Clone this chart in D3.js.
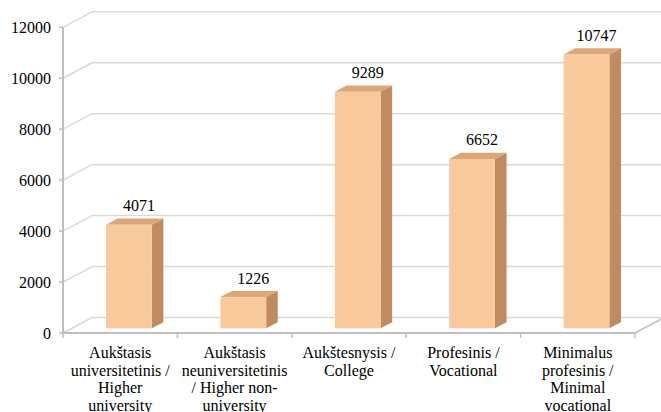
<!DOCTYPE html>
<html>
<head>
<meta charset="utf-8">
<script src="https://cdn.jsdelivr.net/npm/d3@7"></script>
</head>
<body style="margin:0;background:#fff">
<svg id="chart" width="661" height="412" style="display:block"></svg>
<script>
// ---- data ----
const categories = [
  "Aukštasis|universitetinis /|Higher|university",
  "Aukštasis|neuniversitetinis|/ Higher non-|university",
  "Aukštesnysis /|College",
  "Profesinis /|Vocational",
  "Minimalus|profesinis /|Minimal|vocational"
];
const values = [4071, 1226, 9289, 6652, 10747];
const yTicks = [0, 2000, 4000, 6000, 8000, 10000, 12000];

// ---- layout ----
const W = 661;
const left = 63, right = 635, floorY = 333, topY = 27.3;
const depth = { dx: 29, dy: -15.5 };
const barFront = 0.3, barBack = 0.7;
const FONT = "Liberation Serif";

const colors = {
  front: "#F8C99B", side: "#C08C5F", top: "#DCA676",
  grid: "#D9D9D9", axis: "#BFBFBF"
};

const svg = d3.select("#chart");

const x = d3.scaleBand().domain(d3.range(categories.length)).range([left, right]);
const y = d3.scaleLinear().domain([0, 12000]).range([floorY, topY]);
const bw = x.bandwidth() / 2.5;

function addText(xp, yp, str, anchor) {
  return svg.append("text")
    .attr("x", xp).attr("y", yp)
    .attr("text-anchor", anchor)
    .attr("font-family", FONT).attr("font-size", 16).attr("fill", "#000")
    .text(str);
}

// back wall gridlines + side wall diagonals
yTicks.forEach(t => {
  const yy = y(t);
  svg.append("line")
    .attr("x1", left + depth.dx).attr("y1", yy + depth.dy)
    .attr("x2", W + 5).attr("y2", yy + depth.dy)
    .attr("stroke", colors.grid).attr("stroke-width", 1.5);
  svg.append("line")
    .attr("x1", left).attr("y1", yy)
    .attr("x2", left + depth.dx).attr("y2", yy + depth.dy)
    .attr("stroke", colors.grid).attr("stroke-width", 1.5);
  // tick mark and label
  svg.append("line")
    .attr("x1", left - 4).attr("y1", yy).attr("x2", left).attr("y2", yy)
    .attr("stroke", colors.axis).attr("stroke-width", 1.5);
  addText(left - 12, yy + 5.5, d3.format("d")(t), "end");
});

// floor right edge
svg.append("line")
  .attr("x1", right).attr("y1", floorY)
  .attr("x2", right + depth.dx).attr("y2", floorY + depth.dy)
  .attr("stroke", colors.axis).attr("stroke-width", 1.5);

// y axis line
svg.append("line")
  .attr("x1", left).attr("y1", topY).attr("x2", left).attr("y2", floorY)
  .attr("stroke", colors.axis).attr("stroke-width", 2);

// x axis front line
svg.append("line")
  .attr("x1", left).attr("y1", floorY).attr("x2", right).attr("y2", floorY)
  .attr("stroke", colors.axis).attr("stroke-width", 2);

// x ticks at band boundaries
d3.range(categories.length + 1).forEach(i => {
  const bx = left + i * x.step();
  svg.append("line")
    .attr("x1", bx).attr("x2", bx).attr("y1", floorY).attr("y2", floorY + 5)
    .attr("stroke", colors.axis).attr("stroke-width", 1.5);
});

// bars
const fdx = depth.dx * barFront, fdy = depth.dy * barFront;
const bdx = depth.dx * (barBack - barFront), bdy = depth.dy * (barBack - barFront);

values.forEach((v, i) => {
  const x0 = x(i) + (x.bandwidth() - bw) / 2 + fdx;
  const x1 = x0 + bw;
  const yb = y(0) + fdy;
  const yt = y(v) + fdy;
  svg.append("path")
    .attr("d", `M${x1},${yb} L${x1 + bdx},${yb + bdy} L${x1 + bdx},${yt + bdy} L${x1},${yt} Z`)
    .attr("fill", colors.side);
  svg.append("path")
    .attr("d", `M${x0},${yt} L${x0 + bdx},${yt + bdy} L${x1 + bdx},${yt + bdy} L${x1},${yt} Z`)
    .attr("fill", colors.top);
  svg.append("rect")
    .attr("x", x0).attr("y", yt).attr("width", bw).attr("height", yb - yt)
    .attr("fill", colors.front);
  addText(x0 + bw / 2 + 10, yt - 13.5, d3.format("d")(v), "middle");
});

// category labels
categories.forEach((c, i) => {
  const cx = x(i) + x.bandwidth() / 2;
  const t = svg.append("text")
    .attr("text-anchor", "middle")
    .attr("font-family", FONT).attr("font-size", 16).attr("fill", "#000");
  c.split("|").forEach((line, k) => {
    t.append("tspan").attr("x", cx).attr("y", 358 + k * 17.5).text(line);
  });
});
</script>
</body>
</html>
